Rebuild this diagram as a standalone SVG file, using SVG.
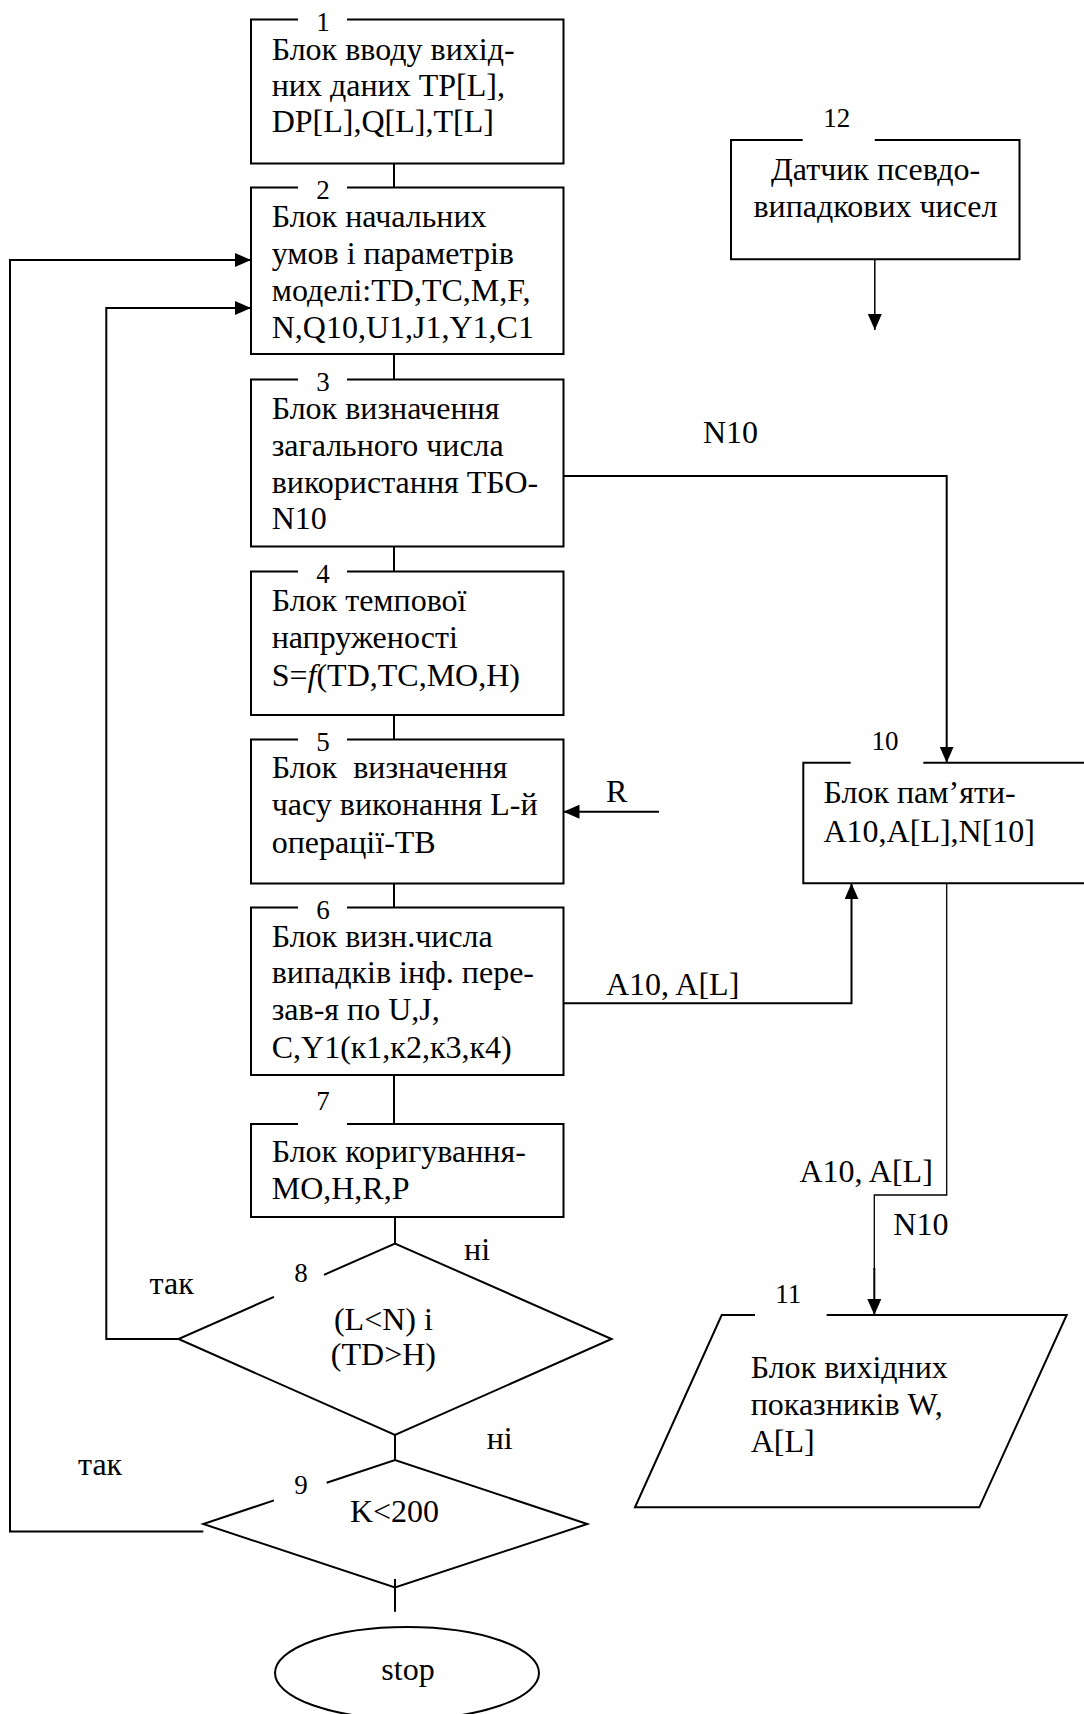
<svg xmlns="http://www.w3.org/2000/svg" width="1084" height="1714" viewBox="0 0 1084 1714">
<style>
.s{fill:none;stroke:#000;stroke-width:2}
.t{font-family:"Liberation Serif","Times New Roman",serif;font-size:32px;fill:#000}
.n{font-family:"Liberation Serif","Times New Roman",serif;font-size:27px;fill:#000}
.m{text-anchor:middle}
</style>
<defs>
<marker id="ah" markerUnits="userSpaceOnUse" markerWidth="16" markerHeight="14" refX="16" refY="7" orient="auto">
<path d="M0,0 L16,7 L0,14 z" fill="#000"/>
</marker>
</defs>
<rect width="1084" height="1714" fill="#fff"/>

<g id="connectors">
<path class="s" d="M394,163.5 V187.5 M394,354 V379.5 M394,546.5 V571.5 M394,715 V739.5 M394,883.5 V907.5 M394,1075 V1124 M395,1217 V1243.5 M395,1435 V1460 M395,1579 V1611.7"/>
<path class="s" d="M203.3,1531.5 H10 V260 H251" marker-end="url(#ah)"/>
<path class="s" d="M178.5,1339 H106.3 V308 H251" marker-end="url(#ah)"/>
<path class="s" style="stroke-width:1.5" d="M874.8,259.3 V330" marker-end="url(#ah)"/>
<path class="s" d="M563.5,476 H946.7 V762.7" marker-end="url(#ah)"/>
<path class="s" d="M659,811.7 H563.5" marker-end="url(#ah)"/>
<path class="s" d="M563.5,1003.3 H851.5 V883.3" marker-end="url(#ah)"/>
<path class="s" style="stroke-width:1.3" d="M946.7,883.3 V1195 H874.3 V1270"/>
<path class="s" d="M874.3,1268 V1315" marker-end="url(#ah)"/>
<text class="t" x="703" y="443.3">N10</text>
<text class="t" x="606" y="801.7">R</text>
<text class="t" x="606" y="995">A10, A[L]</text>
<text class="t" x="799.5" y="1182">A10, A[L]</text>
<text class="t" x="893.3" y="1235">N10</text>
<text class="t" x="464" y="1259.6">ні</text>
<text class="t" x="149.6" y="1294">так</text>
<text class="t" x="486.7" y="1449.3">ні</text>
<text class="t" x="78" y="1474.5">так</text>
</g>

<g id="n1">
<path class="s" d="M298,19.5 H251 V163.5 H563.5 V19.5 H347"/>
<text class="n m" x="323" y="30.5">1</text>
<text class="t" x="271.7" y="60">Блок вводу вихід-</text>
<text class="t" x="271.7" y="96">них даних TP[L],</text>
<text class="t" x="271.7" y="132">DP[L],Q[L],T[L]</text>
</g>

<g id="n2">
<path class="s" d="M298,187.5 H251 V354 H563.5 V187.5 H347"/>
<text class="n m" x="323" y="198.5">2</text>
<text class="t" x="271.7" y="227">Блок начальних</text>
<text class="t" x="271.7" y="264">умов і параметрів</text>
<text class="t" x="271.7" y="301">моделі:TD,TC,M,F,</text>
<text class="t" x="271.7" y="338">N,Q10,U1,J1,Y1,C1</text>
</g>

<g id="n3">
<path class="s" d="M298,379.5 H251 V546.5 H563.5 V379.5 H347"/>
<text class="n m" x="323" y="390.5">3</text>
<text class="t" x="271.7" y="419">Блок визначення</text>
<text class="t" x="271.7" y="456">загального числа</text>
<text class="t" x="271.7" y="492.5">використання ТБО-</text>
<text class="t" x="271.7" y="529">N10</text>
</g>

<g id="n4">
<path class="s" d="M298,571.5 H251 V715 H563.5 V571.5 H347"/>
<text class="n m" x="323" y="582.5">4</text>
<text class="t" x="271.7" y="610.5">Блок темпової</text>
<text class="t" x="271.7" y="647.5">напруженості</text>
<text class="t" x="271.7" y="685.5">S=<tspan font-style="italic">f</tspan>(TD,TC,MO,H)</text>
</g>

<g id="n5">
<path class="s" d="M298,739.5 H251 V883.5 H563.5 V739.5 H347"/>
<text class="n m" x="323" y="750.5">5</text>
<text class="t" x="271.7" y="777.5">Блок&#160; визначення</text>
<text class="t" x="271.7" y="815">часу виконання L-й</text>
<text class="t" x="271.7" y="853">операції-ТВ</text>
</g>

<g id="n6">
<path class="s" d="M298,907.5 H251 V1075 H563.5 V907.5 H347"/>
<text class="n m" x="323" y="918.5">6</text>
<text class="t" x="271.7" y="946.5">Блок визн.числа</text>
<text class="t" x="271.7" y="983">випадків інф. пере-</text>
<text class="t" x="271.7" y="1020">зав-я по U,J,</text>
<text class="t" x="271.7" y="1058">C,Y1(к1,к2,к3,к4)</text>
</g>

<g id="n7">
<path class="s" d="M298,1124 H251 V1217 H563.5 V1124 H347"/>
<text class="n m" x="323" y="1110">7</text>
<text class="t" x="271.7" y="1161.5">Блок коригування-</text>
<text class="t" x="271.7" y="1198.5">MO,H,R,P</text>
</g>

<g id="n8">
<path class="s" d="M324,1274.8 L395,1243.5 L611.6,1339 L395,1435 L178.5,1339 L274,1296.9"/>
<text class="n m" x="301" y="1281.7">8</text>
<text class="t m" x="383.4" y="1330">(L&lt;N) і</text>
<text class="t m" x="383.4" y="1365">(TD&gt;H)</text>
</g>

<g id="n9">
<path class="s" d="M326.7,1482.8 L395,1460 L587.3,1524 L395,1587.5 L203.3,1524 L274,1500.4"/>
<text class="n m" x="301" y="1494">9</text>
<text class="t m" x="394.5" y="1521.7">K&lt;200</text>
</g>

<g id="stop">
<ellipse class="s" cx="407" cy="1673" rx="132" ry="46"/>
<text class="t m" x="408" y="1680">stop</text>
</g>

<g id="n10">
<path class="s" d="M850.7,762.7 H803.3 V883.3 H1090 V762.7 H923.3"/>
<text class="n m" x="885" y="750">10</text>
<text class="t" x="823.5" y="803.3">Блок пам’яти-</text>
<text class="t" x="823.5" y="842">A10,A[L],N[10]</text>
</g>

<g id="n11">
<path class="s" d="M755,1315 H721.7 L635,1507.3 H979.3 L1066.7,1315 H826.7"/>
<text class="n m" x="788.3" y="1303">11</text>
<text class="t" x="750.7" y="1378.3">Блок вихідних</text>
<text class="t" x="750.7" y="1415">показників W,</text>
<text class="t" x="750.7" y="1451.7">A[L]</text>
</g>

<g id="n12">
<path class="s" d="M802.7,140 H731 V259.3 H1019.5 V140 H874.8"/>
<text class="n m" x="836.7" y="127">12</text>
<text class="t m" x="875.5" y="180">Датчик псевдо-</text>
<text class="t m" x="875.5" y="216.7">випадкових чисел</text>
</g>
</svg>
